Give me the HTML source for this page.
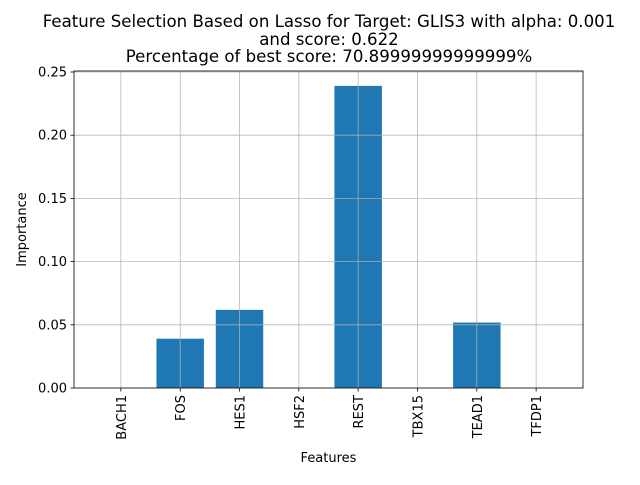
<!DOCTYPE html>
<html><head><meta charset="utf-8"><style>
body{margin:0;background:#fff;}
svg{font-family:"DejaVu Sans","Liberation Sans",sans-serif;}
</style></head><body>
<svg id="chart" width="640" height="480">
<rect width="640" height="480" fill="#fff"/>
<g font-size="16.6" text-anchor="middle" fill="#000">
<text x="329" y="27">Feature Selection Based on Lasso for Target: GLIS3 with alpha: 0.001</text>
<text x="329" y="45">and score: 0.622</text>
<text x="329" y="62">Percentage of best score: 70.89999999999999%</text>
</g>
<g id="plot"></g>
</svg>
<script>
const categories=["BACH1","FOS","HES1","HSF2","REST","TBX15","TEAD1","TFDP1"];
const importance=[0,0.0390,0.0618,0,0.2390,0,0.0518,0];
const yTicks=[0,0.05,0.10,0.15,0.20,0.25];
const yTickLabels=["0.00","0.05","0.10","0.15","0.20","0.25"];

const L=74,R=583,T=71,B=388;
const yScale=316/0.25;
const xMin=-0.79,xMax=7.79;
const x=v=>L+(v-xMin)/(xMax-xMin)*(R-L);
const y=v=>B-v*yScale;
const NS="http://www.w3.org/2000/svg";
const g=document.getElementById('plot');
function mk(tag,attrs){const e=document.createElementNS(NS,tag);for(const k in attrs)e.setAttribute(k,attrs[k]);g.appendChild(e);return e;}
const bw=(x(0.4)-x(-0.4));
categories.forEach((c,i)=>{
  const v=importance[i];
  const r=mk('rect',{x:x(i)-bw/2,y:y(v),width:bw,height:B-y(v),fill:'#1f77b4'});
  
  
});
categories.forEach((c,i)=>{
  const l=mk('line',{x1:x(i),x2:x(i),y1:T,y2:B,stroke:'#b0b0b0','stroke-width':0.8,'stroke-opacity':0.9});
  
  
  const t=mk('line',{x1:x(i),x2:x(i),y1:B,y2:B+3.5,stroke:'#000','stroke-width':0.8});
  
  
  const tx=mk('text',{x:0,y:0,'font-size':13,'text-anchor':'end',transform:`translate(${x(i)+5},${B+7}) rotate(-90)`});
  tx.textContent=c;
  
  
});
yTicks.forEach((v,i)=>{
  const l=mk('line',{x1:L,x2:R,y1:y(v),y2:y(v),stroke:'#b0b0b0','stroke-width':0.8,'stroke-opacity':0.9});
  
  
  const t=mk('line',{x1:L-3.5,x2:L,y1:y(v),y2:y(v),stroke:'#000','stroke-width':0.8});
  
  
  const tx=mk('text',{x:L-7,y:y(v)+4.5,'font-size':13,'text-anchor':'end'});
  tx.textContent=yTickLabels[i];
  
  
});
const fr=mk('rect',{x:L,y:T,width:R-L,height:B-T,fill:'none',stroke:'#000','stroke-width':0.8});


const xl=mk('text',{x:(L+R)/2,y:462,'font-size':13,'text-anchor':'middle'});
xl.textContent='Features';


const yl=mk('text',{x:0,y:0,'font-size':13,'text-anchor':'middle',transform:`translate(26,${(T+B)/2}) rotate(-90)`});
yl.textContent='Importance';


</script>
</body></html>
